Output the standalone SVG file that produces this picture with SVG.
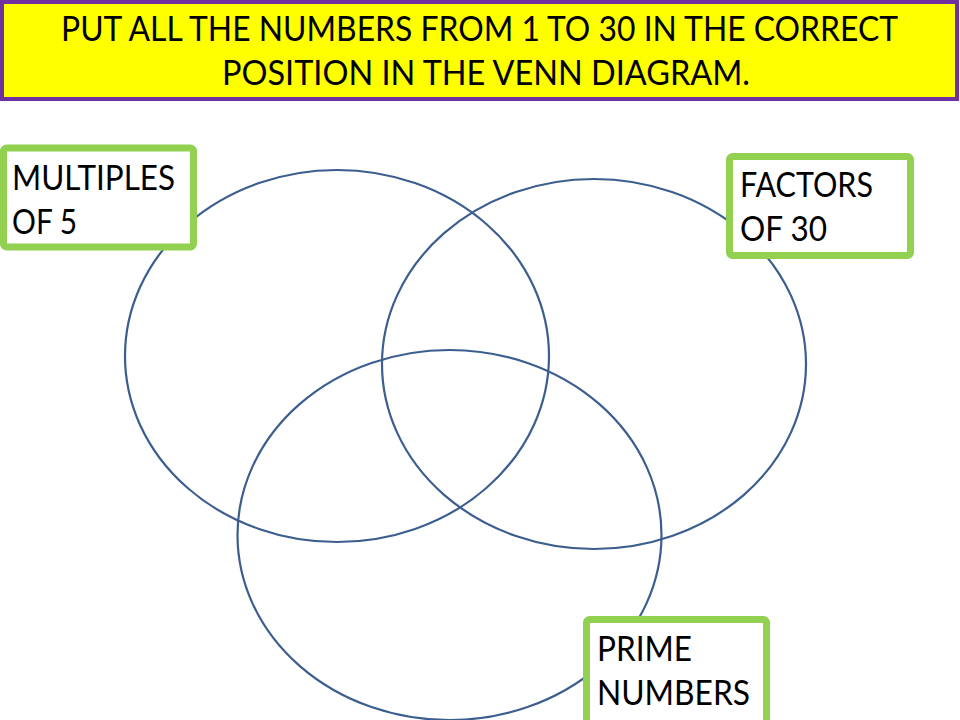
<svg xmlns="http://www.w3.org/2000/svg" width="960" height="720" viewBox="0 0 960 720">
<style>
.t{font-family:Lato,"Open Sans","Liberation Sans",sans-serif;font-size:34px;fill:#000}
.lbl{fill:#fff;stroke:#92D050;stroke-width:7}
.ven{fill:none;stroke:#3B5E8F;stroke-width:2.2}
</style>
<rect width="960" height="720" fill="#fff"/>
<g id="title">
<rect x="2" y="2" width="955" height="97" fill="#FFFF00" stroke="#7030A0" stroke-width="4"/>
<text class="t" x="61" y="41" textLength="837" lengthAdjust="spacingAndGlyphs">PUT ALL THE NUMBERS FROM 1 TO 30 IN THE CORRECT</text>
<text class="t" x="222" y="85" textLength="528" lengthAdjust="spacingAndGlyphs">POSITION IN THE VENN DIAGRAM.</text>
</g>
<g id="venn">
<ellipse id="set-multiples" class="ven" cx="337" cy="356" rx="212" ry="186"/>
<ellipse id="set-factors" class="ven" cx="594" cy="364" rx="212" ry="185"/>
<ellipse id="set-primes" class="ven" cx="449.5" cy="535" rx="212" ry="185"/>
</g>
<g id="label-multiples">
<rect class="lbl" x="3.5" y="148" width="190" height="99" rx="3"/>
<text class="t" x="12" y="190" textLength="163" lengthAdjust="spacingAndGlyphs">MULTIPLES</text>
<text class="t" x="12" y="234" textLength="65" lengthAdjust="spacingAndGlyphs">OF 5</text>
</g>
<g id="label-factors">
<rect class="lbl" x="729.5" y="156.5" width="181" height="99" rx="3"/>
<text class="t" x="740" y="197" textLength="133" lengthAdjust="spacingAndGlyphs">FACTORS</text>
<text class="t" x="740" y="241" textLength="87" lengthAdjust="spacingAndGlyphs">OF 30</text>
</g>
<g id="label-primes">
<rect class="lbl" x="586.5" y="619.5" width="180" height="110" rx="3"/>
<text class="t" x="597" y="661" textLength="95" lengthAdjust="spacingAndGlyphs">PRIME</text>
<text class="t" x="597" y="705" textLength="153" lengthAdjust="spacingAndGlyphs">NUMBERS</text>
</g>
</svg>
